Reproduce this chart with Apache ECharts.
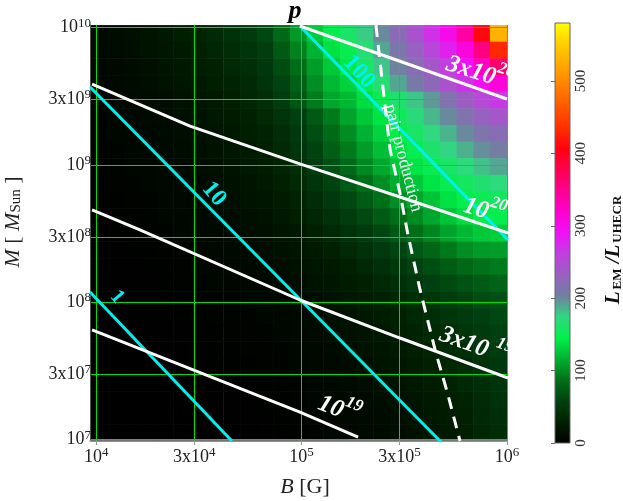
<!DOCTYPE html>
<html>
<head>
<meta charset="utf-8">
<script src="https://cdn.jsdelivr.net/npm/echarts@6/dist/echarts.min.js"></script>
<style>
html, body { margin: 0; padding: 0; background: #fff; }
#chart { width: 623px; height: 501px; }
</style>
</head>
<body>
<div id="chart"></div>
<script>
// log10 B [G] at the centre of each heat-map column
const logB = [4.011, 4.092, 4.173, 4.254, 4.335, 4.416, 4.497, 4.578, 4.660, 4.741, 4.822, 4.903, 4.984,
  5.065, 5.146, 5.227, 5.308, 5.389, 5.470, 5.552, 5.633, 5.714, 5.795, 5.876, 5.957];
// log10 M [M_sun] at the centre of each heat-map row, top row first
const logM = [9.959, 9.838, 9.716, 9.595, 9.474, 9.353, 9.232, 9.110, 8.989, 8.868, 8.747, 8.626, 8.505,
  8.383, 8.262, 8.141, 8.020, 7.898, 7.777, 7.656, 7.535, 7.414, 7.293, 7.172, 7.051];
// L_EM / L_UHECR (rows follow logM, columns follow logB)
const ratio = [
  [8, 11, 14, 18, 22, 27, 32, 38, 45, 53, 62, 82, 105, 128, 148, 160, 178, 200, 222, 245, 270, 300, 340, 410, 530],
  [7, 10, 13, 16, 20, 24, 29, 34, 40, 47, 56, 74, 95, 118, 138, 150, 168, 190, 212, 232, 255, 280, 310, 355, 430],
  [6, 8, 11, 14, 17, 21, 26, 30, 36, 42, 50, 66, 86, 108, 128, 142, 160, 180, 202, 220, 240, 262, 290, 325, 365],
  [6, 8, 10, 13, 15, 19, 23, 27, 32, 38, 46, 60, 78, 100, 120, 132, 150, 168, 190, 208, 225, 245, 270, 295, 312],
  [5, 7, 8, 10, 12, 15, 19, 23, 28, 34, 42, 55, 72, 92, 112, 120, 137, 150, 165, 180, 195, 215, 235, 252, 265],
  [4, 6, 7, 9, 11, 14, 17, 21, 25, 30, 37, 46, 58, 74, 92, 110, 127, 140, 155, 170, 185, 200, 215, 230, 240],
  [4, 5, 6, 8, 10, 12, 15, 18, 22, 27, 33, 41, 52, 67, 84, 100, 117, 132, 146, 160, 174, 186, 200, 212, 220],
  [3, 4, 5, 7, 9, 11, 13, 16, 20, 24, 29, 37, 47, 60, 76, 92, 108, 123, 138, 150, 163, 175, 187, 198, 205],
  [3, 4, 5, 6, 8, 9, 12, 14, 17, 21, 26, 33, 42, 54, 68, 83, 98, 113, 127, 140, 150, 160, 172, 182, 190],
  [2, 3, 4, 5, 7, 8, 10, 12, 15, 18, 23, 29, 37, 47, 60, 73, 87, 100, 114, 127, 140, 150, 157, 165, 172],
  [2, 2, 3, 4, 6, 7, 9, 11, 13, 16, 20, 25, 32, 41, 52, 63, 75, 87, 100, 113, 125, 138, 147, 152, 156],
  [2, 2, 3, 4, 5, 6, 8, 9, 11, 14, 17, 21, 27, 35, 44, 54, 64, 75, 87, 99, 112, 125, 137, 145, 148],
  [1, 2, 2, 3, 4, 5, 7, 8, 10, 12, 14, 18, 22, 29, 36, 45, 53, 62, 73, 85, 97, 110, 120, 127, 130],
  [1, 1, 2, 2, 3, 4, 6, 7, 8, 10, 12, 15, 18, 24, 30, 37, 44, 52, 61, 71, 81, 91, 100, 106, 108],
  [1, 1, 1, 2, 2, 3, 5, 6, 7, 8, 10, 12, 15, 19, 24, 30, 36, 43, 51, 59, 67, 75, 83, 88, 92],
  [1, 1, 1, 1, 2, 3, 4, 5, 6, 7, 8, 10, 12, 16, 20, 25, 30, 36, 43, 50, 57, 64, 70, 75, 79],
  [0, 1, 1, 1, 1, 2, 3, 4, 4, 5, 6, 8, 10, 13, 16, 20, 25, 30, 36, 42, 48, 54, 60, 65, 68],
  [0, 0, 1, 1, 1, 2, 2, 3, 3, 4, 5, 6, 8, 11, 14, 17, 21, 26, 31, 36, 42, 47, 53, 58, 62],
  [0, 0, 0, 1, 1, 1, 2, 2, 3, 3, 4, 5, 7, 9, 12, 15, 18, 22, 27, 32, 37, 42, 47, 53, 57],
  [0, 0, 0, 0, 1, 1, 1, 2, 2, 3, 3, 4, 6, 8, 10, 13, 16, 19, 23, 28, 33, 38, 43, 49, 54],
  [0, 0, 0, 0, 0, 1, 1, 1, 2, 2, 3, 3, 5, 7, 9, 11, 14, 17, 20, 25, 29, 34, 39, 45, 50],
  [0, 0, 0, 0, 0, 0, 1, 1, 1, 2, 2, 3, 4, 6, 8, 10, 12, 15, 18, 22, 26, 31, 36, 42, 47],
  [0, 0, 0, 0, 0, 0, 0, 1, 1, 1, 2, 2, 3, 5, 7, 8, 10, 13, 16, 19, 23, 28, 33, 39, 45],
  [0, 0, 0, 0, 0, 0, 0, 0, 1, 1, 1, 2, 3, 4, 6, 7, 9, 11, 14, 17, 21, 25, 30, 36, 42],
  [0, 0, 0, 0, 0, 0, 0, 0, 0, 1, 1, 1, 2, 3, 5, 6, 8, 10, 12, 15, 19, 23, 28, 34, 40]
];

// contour curves, points are [log10 B, log10 M]
const cyan1 = [[3.970, 8.075], [4.661, 6.990]];
const cyan10 = [[3.970, 9.568], [5.679, 6.983]];
const cyan100 = [[4.992, 10.013], [6.005, 8.454]];
const e19 = [[3.980, 7.799], [4.992, 7.201], [5.275, 7.019]];
const e19x3 = [[3.980, 8.673], [4.213, 8.527], [4.992, 8.017], [5.479, 7.740], [6.005, 7.449]];
const e20 = [[3.980, 9.590], [4.457, 9.284], [4.992, 9.008], [5.479, 8.767], [6.005, 8.505]];
const e20x3 = [[4.992, 10.013], [6.000, 9.481]];
const pairLine = [[5.362, 10.02], [5.392, 9.619], [5.431, 9.110], [5.479, 8.796], [5.518, 8.491],
  [5.577, 8.090], [5.650, 7.653], [5.713, 7.325], [5.771, 6.990]];

// axis ticks
const bTicks = [1e4, 3e4, 1e5, 3e5, 1e6];
const bTickText = [['10', '4'], ['3x10', '4'], ['10', '5'], ['3x10', '5'], ['10', '6']];
const mTicks = [1e7, 3e7, 1e8, 3e8, 1e9, 3e9, 1e10];
const mTickText = [['10', '7'], ['3x10', '7'], ['10', '8'], ['3x10', '8'], ['10', '9'], ['3x10', '9'], ['10', '10']];
const cbTicks = [0, 100, 200, 300, 400, 500];
const cbMax = 580;

const cbColors = ['#000000', '#002000', '#004010', '#007018', '#00b030', '#00f048', '#30d880', '#7080a0',
  '#9860c0', '#c040e0', '#f010f8', '#ff00d0', '#ff0090', '#ff0050', '#ff0010', '#ff3000', '#ff5800',
  '#ff8000', '#ffa800', '#ffd000', '#ffff00'];

const serif = '"Liberation Serif", "DejaVu Serif", serif';

const heatData = [];
logM.forEach((m, r) => logB.forEach((b, c) => heatData.push([b, m, ratio[r][c]])));
const halfB = (logB[1] - logB[0]) / 2;
const halfM = (logM[0] - logM[1]) / 2;

const tickRich = {
  n: { fontFamily: serif, fontSize: 18, color: '#222', lineHeight: 22 },
  s: { fontFamily: serif, fontSize: 13, color: '#222', verticalAlign: 'top', lineHeight: 13 }
};
const tickFormatter = (values, texts) => (v) => {
  for (let i = 0; i < values.length; i++) {
    if (Math.abs(Math.log10(values[i]) - v) < 1e-6) return '{n|' + texts[i][0] + '}{s|' + texts[i][1] + '}';
  }
  return '';
};

const lineSeries = (data, color, type) => ({
  type: 'line', data: data, xAxisIndex: 0, yAxisIndex: 0, showSymbol: false, symbol: 'none',
  clip: true, silent: true, z: 5,
  lineStyle: { color: color, width: 3, type: type || 'solid' }
});

const whiteRich = {
  a: { fontFamily: serif, fontSize: 25, fontWeight: 'bold', fontStyle: 'italic', fill: '#fff', padding: [7, 0, 0, 0] },
  b: { fontFamily: serif, fontSize: 17, fontWeight: 'bold', fontStyle: 'italic', fill: '#fff', verticalAlign: 'top' }
};
const textEl = (text, x, y, rot, style) => ({
  type: 'text', x: x, y: y, rotation: rot, z: 100, silent: true,
  style: Object.assign({ text: text, align: 'center', verticalAlign: 'middle' }, style)
});
const cyanStyle = (size) => ({ fontFamily: serif, fontSize: size, fontWeight: 'bold', fill: '#00f0f0' });

const chart = echarts.init(document.getElementById('chart'));
chart.setOption({
  animation: false,
  backgroundColor: '#fff',
  grid: [
    { left: 90, top: 25, width: 417, height: 416 },
    { left: 555, top: 23, width: 15, height: 420 }
  ],
  xAxis: [
    {
      type: 'value', gridIndex: 0, min: 3.97, max: 6.0, z: 3,
      axisLine: { show: true, lineStyle: { color: '#999', width: 1.5 } },
      axisTick: { show: true, customValues: bTicks.map(Math.log10), length: 4, lineStyle: { color: '#999' } },
      axisLabel: { customValues: bTicks.map(Math.log10), formatter: tickFormatter(bTicks, bTickText), rich: tickRich, margin: 5 },
      splitLine: { show: true, lineStyle: { color: '#00dd00', width: 1 } }
    },
    { type: 'value', gridIndex: 1, min: 0, max: 1, show: false }
  ],
  yAxis: [
    {
      type: 'value', gridIndex: 0, min: 6.99, max: 10.02, z: 3,
      axisLine: { show: true, lineStyle: { color: '#555', width: 1 } },
      axisTick: { show: false, customValues: mTicks.map(Math.log10) },
      axisLabel: { customValues: mTicks.map(Math.log10), formatter: tickFormatter(mTicks, mTickText), rich: tickRich, margin: -1 },
      splitLine: { show: true, lineStyle: { color: '#00dd00', width: 1 } }
    },
    {
      type: 'value', gridIndex: 1, min: 0, max: cbMax, position: 'right', z: 3,
      axisLine: { show: false },
      axisTick: { show: true, inside: true, customValues: cbTicks, length: 4, lineStyle: { color: '#666' } },
      axisLabel: { customValues: cbTicks, rotate: 90, margin: 4, fontFamily: serif, fontSize: 15, color: '#333' },
      splitLine: { show: false }
    }
  ],
  visualMap: {
    show: false, type: 'continuous', seriesIndex: 0, dimension: 2, min: 0, max: cbMax,
    inRange: { color: cbColors }
  },
  series: [
    {
      type: 'custom', xAxisIndex: 0, yAxisIndex: 0, data: heatData, z: 1, silent: true,
      encode: { x: 0, y: 1 },
      renderItem: function (params, api) {
        const b = api.value(0), m = api.value(1);
        const p0 = api.coord([b - halfB, m + halfM]);
        const p1 = api.coord([b + halfB, m - halfM]);
        return {
          type: 'rect',
          shape: { x: p0[0], y: p0[1], width: p1[0] - p0[0] + 0.6, height: p1[1] - p0[1] + 0.6 },
          style: { fill: api.visual('color') }
        };
      }
    },
    lineSeries(cyan1, '#00f0f0'),
    lineSeries(cyan10, '#00f0f0'),
    lineSeries(cyan100, '#00f0f0'),
    lineSeries(e19, '#ffffff'),
    lineSeries(e19x3, '#ffffff'),
    lineSeries(e20, '#ffffff'),
    lineSeries(e20x3, '#ffffff'),
    lineSeries(pairLine, '#ffffff', [12, 8]),
    {
      type: 'custom', xAxisIndex: 1, yAxisIndex: 1, data: [[0, 0]], silent: true, z: 2,
      renderItem: function (params, api) {
        const p0 = api.coord([0, cbMax]);
        const p1 = api.coord([1, 0]);
        return {
          type: 'rect',
          shape: { x: p0[0], y: p0[1], width: p1[0] - p0[0], height: p1[1] - p0[1] },
          style: {
            fill: new echarts.graphic.LinearGradient(0, 1, 0, 0,
              cbColors.map((c, i) => ({ offset: i / (cbColors.length - 1), color: c }))),
            stroke: '#666', lineWidth: 1
          }
        };
      }
    }
  ],
  graphic: [
    textEl('p', 295, 11, 0, { fontFamily: serif, fontSize: 26, fontWeight: 'bold', fontStyle: 'italic', fill: '#000' }),
    textEl('1', 117, 297, -0.87, cyanStyle(21)),
    textEl('10', 214, 194, -0.87, cyanStyle(24)),
    textEl('100', 359, 72, -0.85, cyanStyle(24)),
    textEl('{a|3x10}{b|20}', 480, 70, -0.3, { rich: whiteRich }),
    textEl('{a|10}{b|20}', 485, 208, -0.3, { rich: whiteRich }),
    textEl('{a|3x10 }{b|19}', 476, 343, -0.35, { rich: whiteRich }),
    textEl('{a|10}{b|19}', 340, 407, -0.38, { rich: whiteRich }),
    textEl('pair production', 403, 158, -1.32, { fontFamily: serif, fontSize: 18, fill: '#fff' }),
    textEl('{i|B} [G]', 305, 487, 0, {
      fontFamily: serif, fontSize: 22, fill: '#222',
      rich: { i: { fontFamily: serif, fontSize: 22, fontStyle: 'italic', fill: '#222' } }
    }),
    textEl('{i|M} [ {i|M}{s|Sun} ]', 13, 222, Math.PI / 2, {
      fontFamily: serif, fontSize: 22, fill: '#222',
      rich: {
        i: { fontFamily: serif, fontSize: 22, fontStyle: 'italic', fill: '#222' },
        s: { fontFamily: serif, fontSize: 15, fill: '#222', verticalAlign: 'bottom', padding: [6, 0, 0, 0] }
      }
    }),
    textEl('{L|L}{s|EM}{L| /L}{s|UHECR}', 614, 250, Math.PI / 2, {
      fontFamily: serif, fontSize: 21, fill: '#111',
      rich: {
        L: { fontFamily: serif, fontSize: 21, fontWeight: 'bold', fontStyle: 'italic', fill: '#111' },
        s: { fontFamily: serif, fontSize: 13, fontWeight: 'bold', fill: '#111', verticalAlign: 'bottom', padding: [6, 0, 0, 2] }
      }
    })
  ]
});
</script>
</body>
</html>
